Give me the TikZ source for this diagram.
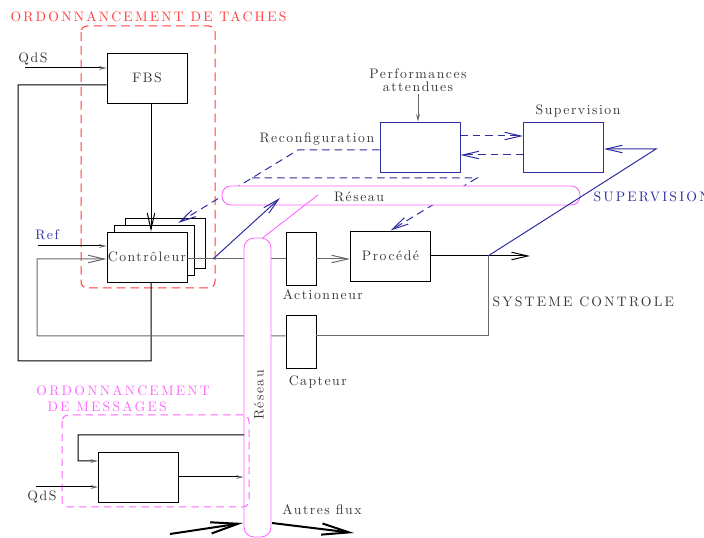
\documentclass[tikz,border=0pt]{standalone}
\usepackage{fontspec}
\usetikzlibrary{arrows.meta}
\newfontfamily\esp[LetterSpace=11]{lmroman10-regular.otf}
\newfontfamily\espM[LetterSpace=16]{lmroman10-regular.otf}
\definecolor{rougeT}{RGB}{255,60,60}
\definecolor{roseM}{RGB}{255,100,255}
\definecolor{bleuS}{RGB}{45,45,160}
\definecolor{grisL}{RGB}{105,105,105}
\definecolor{encre}{RGB}{55,55,55}
\begin{document}
\begin{tikzpicture}[x=0.8pt,y=-0.8pt,line width=0.8pt,
  bloc/.style={draw,line width=0.75pt,fill=white,minimum width=64pt,minimum height=40pt,inner sep=0pt,text=encre,font={\esp\fontsize{11}{13}\selectfont}},
  blocS/.style={bloc,draw=bleuS},
  capt/.style={draw,line width=0.75pt,fill=white,minimum width=24pt,minimum height=42pt,inner sep=0pt},
  lab/.style={text=encre,font={\esp\fontsize{11}{13}\selectfont},inner sep=1pt},
  titre/.style={font={\espM\fontsize{11}{13}\selectfont},inner sep=0pt,anchor=west},
  pipe/.style={draw=roseM,line width=0.7pt,fill=white,rounded corners=7pt,inner sep=0pt},
  fl/.style={-{Straight Barb[length=13pt,width=6pt]}},
  pt/.style={-{Stealth[length=6pt,width=3pt,color=grisL]}},
  gros/.style={line width=1.6pt,-{Straight Barb[length=22pt,width=9pt]}},
  tiret/.style={bleuS,dash pattern=on 6pt off 4pt}]
\useasboundingbox (0,0) rectangle (704,538);
%
\draw[rougeT,dash pattern=on 7pt off 4pt,rounded corners=5pt] (81,26) rectangle (215,288);
\node[titre,text=rougeT] (tTaches) at (10,17) {ORDONNANCEMENT DE TACHES};
%
\node[bloc] (fbs) at (147,78) {FBS};
\node[bloc] (ctrl3) at (165,243) {};
\node[bloc] (ctrl2) at (154,250.5) {};
\node[bloc] (ctrl) at (147,257) {Contrôleur};
\node[capt] (act) at (301,259) {};
\node[capt] (capt) at (301,342) {};
\node[bloc] (proc) at (390.5,256) {Procédé};
\node[blocS] (reconf) at (420,147) {};
\node[blocS] (superv) at (563.5,147) {};
%
\node[lab] (qds) at (33,59) {QdS};
\node[lab,text=bleuS] (ref) at (47,235) {Ref};
\node[lab,anchor=east] (tReconf) at (376,139) {Reconfiguration};
\node[lab,align=center] (perf) at (418,80.5) {Performances\\[-2.6pt]attendues};
\node[lab] (tSup) at (578,111) {Supervision};
\node[lab,anchor=west] (tAct) at (281,295) {Actionneur};
\node[lab,anchor=west] (tCapt) at (287,382) {Capteur};
\node[titre,text=bleuS] (tSUP) at (593,197) {SUPERVISION};
\node[titre,text=encre] (tSys) at (492,302) {SYSTEME CONTROLE};
%
\coordinate (qdsIn) at (25,68);
\coordinate (refIn) at (38,246);
\coordinate (sortie) at (213,259);
\coordinate (jonc) at (488,256);
\coordinate (pOut) at (530,256);
%
\draw[pt] (qdsIn) -- (qdsIn -| fbs.west);
\draw ([yshift=-5.6pt]fbs.west) -- (18,85) -- (18,361) -- (151,361) -- ([xshift=3.2pt]ctrl.south);
\draw[fl] ([xshift=3.2pt]fbs.south) -- ([xshift=3.2pt]ctrl.north);
\draw[pt] (refIn) -- (refIn -| ctrl.west);
\draw[grisL] (ctrl.east |- act.west) -- (act.west);
\draw[grisL,fl] (act.east) -- (act.east -| proc.west);
\draw[fl] (proc.east) -- (pOut);
\draw[grisL] (jonc) -- ([yshift=4.8pt]jonc |- capt.east) -- ([yshift=4.8pt]capt.east);
\draw[grisL,fl] ([yshift=4.8pt]capt.west) -- (37,336) -- (37,259) -- (ctrl.west |- act.west);
%
\node[pipe,rounded corners=8pt,minimum width=21.6pt,minimum height=239.2pt] (resV) at (257.5,387.5) {};
\node[lab,rotate=90] (resVt) at (259,395) {Réseau};
%
\coordinate (vers) at (178,223);
\draw[tiret,fl] ([yshift=-2.4pt]reconf.west) -- (298,150) -- (vers);
\draw[tiret,fl] (252,178) -- (477,178) -- (proc.north);
\draw[tiret,fl] ([yshift=8.8pt]reconf.east) -- ([yshift=8.8pt]superv.west);
\draw[tiret,fl] ([yshift=-6.4pt]superv.west) -- ([yshift=-6.4pt]reconf.east);
\draw[grisL,pt] (perf.south) -- (perf.south |- reconf.north);
%
\node[pipe,minimum width=286.4pt,minimum height=15.2pt] (resH) at (401,195.5) {};
\node[lab] (resHt) at (359,197) {Réseau};
%
\coordinate (resHin) at (280,198);
\draw[bleuS,fl] (sortie) -- (resHin);
\draw[roseM,line width=0.7pt] ([xshift=4.4pt]resV.north) -- (318,195);
\draw[bleuS,fl] (jonc) -- (656,149) -- ([yshift=-1.6pt]superv.east);
%
\draw[roseM,dash pattern=on 6pt off 4pt,rounded corners=5pt] (62,415) rectangle (249,507);
\node[titre,text=roseM] (tMsg1) at (36,391) {ORDONNANCEMENT};
\node[titre,text=roseM] (tMsg2) at (47,407) {DE MESSAGES};
\node[bloc] (msg) at (138.5,477) {};
\coordinate (mIn) at (244,435);
\coordinate (qdsIn2) at (36,487);
\draw[pt] (mIn) -- (78,435) -- (78,461) -- ([yshift=12.8pt]msg.west);
\draw[pt] (msg.east) -- (msg.east -| resV.west);
\draw[pt] (qdsIn2) -- (qdsIn2 -| msg.west);
\node[lab] (qds2) at (42,497) {QdS};
%
\coordinate (afIn) at (170,534);
\coordinate (afA) at (243,523);
\coordinate (afB) at (272,523);
\coordinate (afOut) at (354,533);
\draw[gros] (afIn) -- (afA);
\draw[gros] (afB) -- (afOut);
\node[lab] (tAutres) at (322,510) {Autres flux};
\end{tikzpicture}
\end{document}
